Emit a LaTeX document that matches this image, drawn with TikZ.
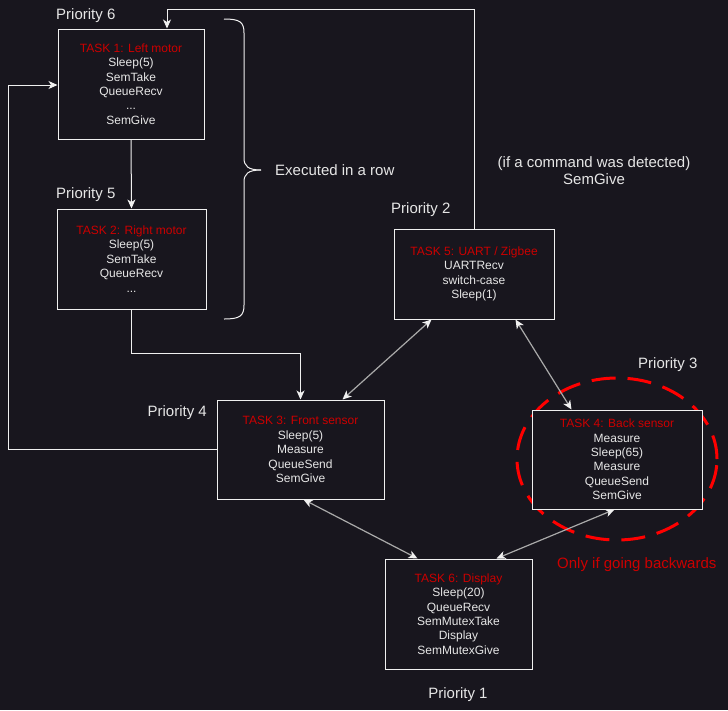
\documentclass[tikz,border=0pt]{standalone}
\usepackage{fontspec}
\setmainfont{Liberation Sans}
\usetikzlibrary{arrows.meta,calc}

\definecolor{bg}{RGB}{24,22,30}
\definecolor{ink}{RGB}{230,230,230}
\definecolor{wire}{RGB}{240,240,240}
\definecolor{link}{RGB}{170,170,170}
\definecolor{titlered}{RGB}{204,0,0}
\definecolor{ringred}{RGB}{255,0,0}

\tikzset{
  task/.style={draw=wire, line width=1pt, fill=bg, text=ink, align=center,
    font=\fontsize{12}{14.4}\selectfont, inner sep=0pt},
  label/.style={text=ink, font=\fontsize{15}{17}\selectfont, inner sep=0pt},
  tip/.style={-{Stealth[length=9pt,width=8pt,inset=2.5pt,color=wire]}},
  flow/.style={draw=wire, line width=1pt, tip},
  both/.style={draw=link, line width=1.2pt,
    {Stealth[length=9pt,width=8pt,inset=2.5pt,color=wire]}-{Stealth[length=9pt,width=8pt,inset=2.5pt,color=wire]}},
  brace/.style={draw=wire, line width=1pt},
  ring/.style={draw=ringred, line width=3pt, dash pattern=on 24pt off 12pt}
}

\newcommand{\tasktitle}[1]{\textcolor{titlered}{#1}}

\begin{document}
\begin{tikzpicture}[x=1pt, y=-1pt]
  % canvas
  \fill[bg] (0,0) rectangle (728,710);
  \useasboundingbox (0,0) rectangle (728,710);

  % dashed ring around the back sensor, behind its box
  \draw[ring] (617,459) ellipse [x radius=100pt, y radius=81pt];

  % task boxes
  \node[task, minimum width=146pt, minimum height=110pt] (t1) at (131,84)
    {\tasktitle{TASK 1: Left motor}\\Sleep(5)\\SemTake\\QueueRecv\\...\\SemGive};
  \node[task, minimum width=149pt, minimum height=100pt] (t2) at (131.5,259)
    {\tasktitle{TASK 2: Right motor}\\Sleep(5)\\SemTake\\QueueRecv\\...};
  \node[task, minimum width=160pt, minimum height=90pt] (t5) at (474,274)
    {\tasktitle{TASK 5: UART / Zigbee}\\UARTRecv\\switch-case\\Sleep(1)};
  \node[task, minimum width=167pt, minimum height=99pt] (t3) at (300.5,449.5)
    {\tasktitle{TASK 3: Front sensor}\\Sleep(5)\\Measure\\QueueSend\\SemGive};
  \node[task, minimum width=170pt, minimum height=99pt] (t4) at (617,459.5)
    {\tasktitle{TASK 4: Back sensor}\\Measure\\Sleep(65)\\Measure\\QueueSend\\SemGive};
  \node[task, minimum width=147pt, minimum height=110pt] (t6) at (458.5,614)
    {\tasktitle{TASK 6: Display}\\Sleep(20)\\QueueRecv\\SemMutexTake\\Display\\SemMutexGive};

  % priority labels
  \node[label, anchor=west] (p6) at (56,16) {Priority 6};
  \node[label, anchor=west] (p5) at (56,195) {Priority 5};
  \node[label, anchor=west] (p2) at (391,210) {Priority 2};
  \node[label, anchor=east] (p4) at (207,413) {Priority 4};
  \node[label, anchor=west] (p3) at (638,365) {Priority 3};
  \node[label] (p1) at (458,695) {Priority 1};

  % side notes
  \node[label, anchor=west] (row) at (275,170) {Executed in a row};
  \node[label, align=center] (cmd) at (594,170.5) {(if a command was detected)\\SemGive};
  \node[label, anchor=west, text=titlered] (back) at (557,565) {Only if going backwards};

  % brace grouping tasks 1 and 2
  \draw[brace] (224,19) .. controls (240,19) and (244,22) .. (244,33)
    -- (244,158) .. controls (244,166) and (248,170) .. (261,170);
  \draw[brace] (261,170) .. controls (248,170) and (244,174) .. (244,182)
    -- (244,305) .. controls (244,316) and (240,319) .. (224,319);

  % bend points of the routed connectors
  \coordinate (c1) at (167,9);
  \coordinate (c2) at (300.5,353);
  \coordinate (c3) at (8,85);

  % routed connectors
  \draw[flow] (t5.north) |- (c1) -- (c1 |- t1.north);
  \draw[flow] (t1.south) -- (t2.north);
  \draw[flow] (t2.south) |- (c2) -- (t3.north);
  \draw[flow] (t3.west) -| (c3) -- (c3 -| t1.west);

  % two-way links
  \draw[both] ($(t5.south west)+(38,0)$) -- ($(t3.north west)+(126,0)$);
  \draw[both] ($(t5.south east)+(-39,0)$) -- ($(t4.north west)+(40,0)$);
  \draw[both] ($(t3.south west)+(87,0)$) -- ($(t6.north west)+(33,0)$);
  \draw[both] ($(t4.south west)+(83,0)$) -- ($(t6.north west)+(112,0)$);
\end{tikzpicture}
\end{document}
